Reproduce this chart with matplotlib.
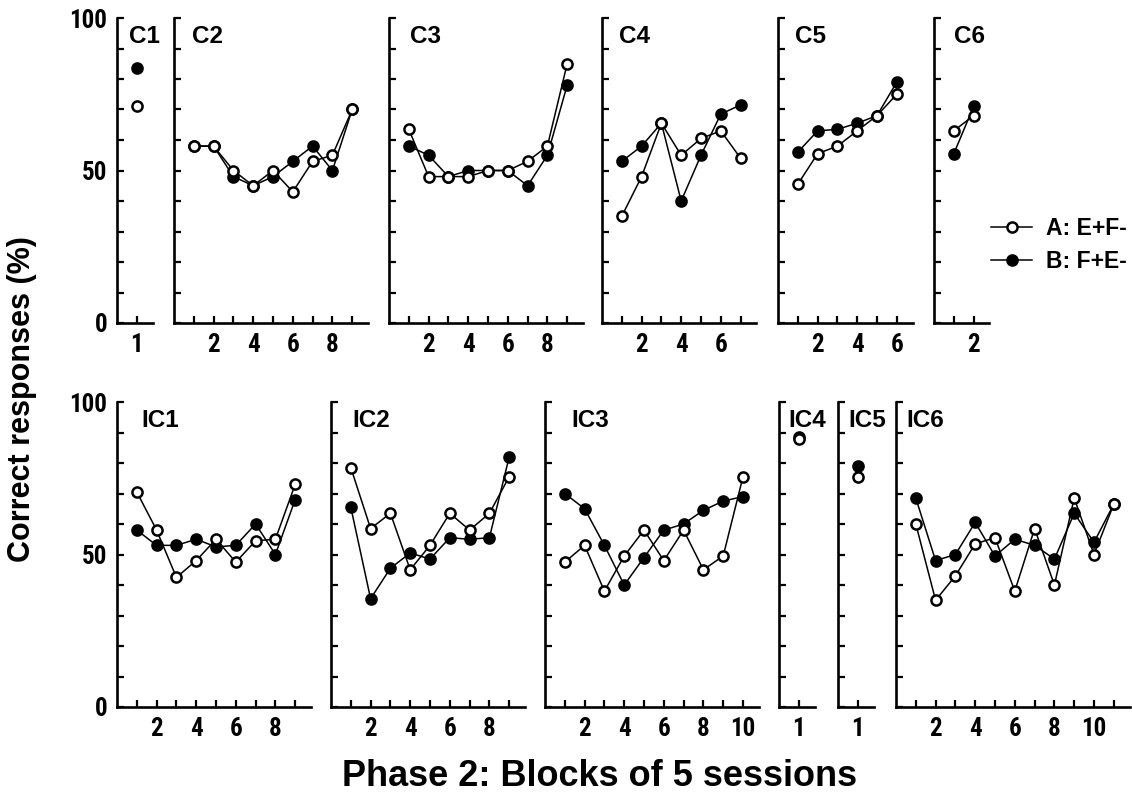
import matplotlib
matplotlib.use("Agg")
import matplotlib.pyplot as plt
from matplotlib import font_manager
from matplotlib.font_manager import FontProperties
from matplotlib.lines import Line2D

# values (% correct), A = E+F-, B = F+E-
c1_a = [71]
c1_b = [83.5]
c2_a = [58, 58, 50, 45, 50, 43, 53, 55, 70]
c2_b = [58, 58, 48, 45, 48, 53, 58, 50, 70]
c3_a = [63.5, 48, 48, 48, 50, 50, 53, 58, 85]
c3_b = [58, 55, 48, 50, 50, 50, 45, 55, 78]
c4_a = [35, 48, 65.5, 55, 60.5, 63, 54]
c4_b = [53, 58, 65.5, 40, 55, 68.5, 71.5]
c5_a = [45.5, 55.5, 58, 63, 68, 75]
c5_b = [56, 63, 63.5, 65.5, 68, 79]
c6_a = [63, 68]
c6_b = [55.5, 71]

ic1_a = [70.5, 58, 42.5, 48, 55, 47.5, 54.5, 55, 73]
ic1_b = [58, 53, 53, 55, 52.5, 53, 60, 50, 68]
ic2_a = [78.5, 58.5, 63.5, 45, 53, 63.5, 58, 63.5, 75.5]
ic2_b = [65.5, 35.5, 45.5, 50.5, 48.5, 55.5, 55, 55.5, 82]
ic3_a = [47.5, 53, 38, 49.5, 58, 48, 58, 45, 49.5, 75.5]
ic3_b = [70, 65, 53, 40, 49, 58, 60, 64.5, 67.5, 69]
ic4_a = [88]
ic4_b = [88.5]
ic5_a = [75.5]
ic5_b = [79]
ic6_a = [60, 35, 43, 53.5, 55.5, 38, 58.5, 40, 68.5, 50, 66.5]
ic6_b = [68.5, 48, 50, 60.5, 49.5, 55, 53, 48.5, 63.5, 54, 66.5]

top_names = ["C1", "C2", "C3", "C4", "C5", "C6"]
bottom_names = ["IC1", "IC2", "IC3", "IC4", "IC5", "IC6"]
legend_labels = ["A: E+F-", "B: F+E-"]

W, H = 1132, 795
plt.rcParams["font.family"] = ["Liberation Sans", "DejaVu Sans"]


# tick numbers in the original are a condensed bold face; use one if there is any
def pick_condensed():
    fonts = font_manager.fontManager.ttflist
    bold = [f for f in fonts if f.weight in (600, 700, 800, "bold", "semibold")]
    for want in ["Liberation Sans Narrow", "Arial Narrow", "Roboto Condensed",
                 "Open Sans Condensed"]:
        for f in bold:
            if f.name == want:
                return f.fname
    for f in bold:
        if f.stretch in ("condensed", "semi-condensed", "extra-condensed") or "Condensed" in f.name:
            return f.fname
    return None


cond_file = pick_condensed()
if cond_file:
    tick_font = FontProperties(fname=cond_file, size=18)
else:
    tick_font = FontProperties(family="Liberation Sans", weight="bold", size=16)

fig = plt.figure(figsize=(W / 100, H / 100), dpi=100)

UNIT = 19.8  # pixels per block


def panel(left_px, top_px, bottom_px, name, a, b, title_dx, first):
    n = len(a)
    xmax = n + 0.8
    ax = fig.add_axes([left_px / W, 1 - bottom_px / H,
                       xmax * UNIT / W, (bottom_px - top_px) / H])
    xs = list(range(1, n + 1))
    ax.plot(xs, b, "-o", color="black", lw=1.1, ms=7.3, mew=1.8,
            mfc="black", mec="black", clip_on=False, zorder=3)
    ax.plot(xs, a, "-o", color="black", lw=1.1, ms=7.3, mew=1.8,
            mfc="white", mec="black", clip_on=False, zorder=4)
    ax.set_xlim(0, xmax)
    ax.set_ylim(0, 100)
    for s in ["top", "right"]:
        ax.spines[s].set_visible(False)
    for s in ["left", "bottom"]:
        ax.spines[s].set_linewidth(1.9)
    ax.set_xticks(xs)
    if n == 1:
        ax.set_xticklabels(["1"])
    else:
        ax.set_xticklabels([str(x) if x % 2 == 0 else "" for x in xs])
    ax.set_yticks(range(0, 101, 10))
    if first:
        ax.set_yticklabels([str(v) if v % 50 == 0 else "" for v in range(0, 101, 10)])
    else:
        ax.set_yticklabels([])
    ax.tick_params(direction="in", length=5, width=1.6, pad=7)
    for lab in ax.get_xticklabels() + ax.get_yticklabels():
        lab.set_fontproperties(tick_font)
    ax.annotate(name, xy=(0, 1), xycoords="axes fraction",
                xytext=(title_dx * 0.72, -5), textcoords="offset points",
                ha="left", va="top", fontsize=17.5, fontweight="bold")
    return ax


top_data = [(c1_a, c1_b), (c2_a, c2_b), (c3_a, c3_b), (c4_a, c4_b), (c5_a, c5_b), (c6_a, c6_b)]
top_left = [117, 174, 389, 602, 778, 934]
top_dx = [12, 18, 21, 17, 17, 20]
for i in range(6):
    panel(top_left[i], 18, 323, top_names[i], top_data[i][0], top_data[i][1], top_dx[i], i == 0)

bottom_data = [(ic1_a, ic1_b), (ic2_a, ic2_b), (ic3_a, ic3_b), (ic4_a, ic4_b), (ic5_a, ic5_b), (ic6_a, ic6_b)]
bottom_left = [117, 331, 545, 779, 838, 896]
bottom_dx = [24, 21, 26, 9, 10, 10]
for i in range(6):
    panel(bottom_left[i], 402, 707, bottom_names[i], bottom_data[i][0], bottom_data[i][1], bottom_dx[i], i == 0)

handles = [
    Line2D([], [], color="black", lw=1.1, marker="o", ms=7.3, mew=1.8, mfc="white", mec="black"),
    Line2D([], [], color="black", lw=1.1, marker="o", ms=7.3, mew=1.8, mfc="black", mec="black"),
]
fig.legend(handles, legend_labels, loc="center left", bbox_to_anchor=(991 / W, 1 - 245 / H),
           frameon=False, borderpad=0, borderaxespad=0, handlelength=1.8,
           handletextpad=0.6, labelspacing=0.4, prop={"size": 16.5, "weight": "bold"})

fig.text(22 / W, 1 - 399 / H, "Correct responses (%)", rotation=90, ha="center", va="center",
         fontsize=22, fontweight="bold")
fig.text(600 / W, 1 - 776 / H, "Phase 2: Blocks of 5 sessions", ha="center", va="center",
         fontsize=26, fontweight="bold")

fig.savefig("out.png", dpi=100)
